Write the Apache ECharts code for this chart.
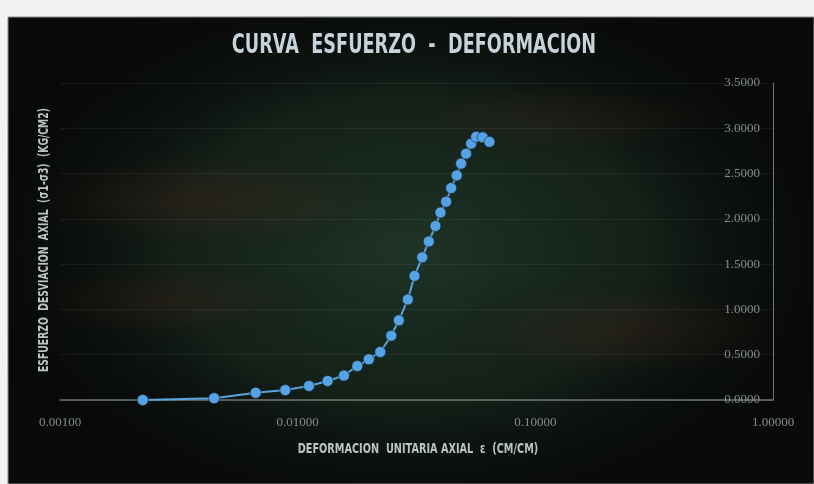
<!DOCTYPE html>
<html>
<head>
<meta charset="utf-8">
<script src="https://cdn.jsdelivr.net/npm/echarts@6/dist/echarts.min.js"></script>
<style>
  html, body { margin: 0; padding: 0; background: #f2f2f2; }
  #chart { width: 814px; height: 484px; }
</style>
</head>
<body>
<div id="chart"></div>
<script>
// Axial unit strain (cm/cm) and deviator stress (kg/cm2) readings
const deformacion = [
  0.00223, 0.00445, 0.00666, 0.00887, 0.01116, 0.01337, 0.01565, 0.01782,
  0.01993, 0.02226, 0.02476, 0.02665, 0.02907, 0.03102, 0.03342, 0.03562,
  0.03800, 0.03989, 0.04215, 0.04424, 0.04670, 0.04873, 0.05113, 0.05369,
  0.05636, 0.06007, 0.06410
];
const esfuerzo = [
  0.00, 0.02, 0.08, 0.11, 0.155, 0.21, 0.27, 0.375,
  0.45, 0.53, 0.71, 0.88, 1.11, 1.37, 1.575, 1.75,
  1.92, 2.07, 2.19, 2.34, 2.48, 2.61, 2.72, 2.83,
  2.906, 2.90, 2.85
];
const yTicks = [0, 0.5, 1, 1.5, 2, 2.5, 3, 3.5];
const xTicks = [0.001, 0.01, 0.1, 1];

const tituloTexto = 'CURVA  ESFUERZO  -  DEFORMACION';
const ejeXTexto = 'DEFORMACION  UNITARIA AXIAL  ε  (CM/CM)';
const ejeYTexto = 'ESFUERZO  DESVIACION  AXIAL  (σ1-σ3)  (KG/CM2)';

const points = deformacion.map((d, i) => [d, esfuerzo[i]]);
const sans = '"DejaVu Sans", sans-serif';
const serif = '"Liberation Serif", "DejaVu Serif", serif';

const chart = echarts.init(document.getElementById('chart'), null, { renderer: 'canvas' });

// soft glow over the dark panel (a scaled circle gives an elliptical glow)
function blob(cx, cy, rx, ry, color, mid) {
  return {
    type: 'circle', silent: true, z: -9,
    x: cx, y: cy, scaleX: rx / 100, scaleY: ry / 100,
    shape: { cx: 0, cy: 0, r: 100 },
    style: {
      fill: new echarts.graphic.RadialGradient(0.5, 0.5, 0.5, [
        { offset: 0, color: color },
        { offset: 0.5, color: mid },
        { offset: 1, color: 'rgba(0,0,0,0)' }
      ])
    }
  };
}

// light page margin around the panel, drawn above the glows
function margin(x, y, w, h) {
  return {
    type: 'rect', silent: true, z: -8,
    shape: { x: x, y: y, width: w, height: h },
    style: { fill: '#f2f2f2' }
  };
}

chart.setOption({
  animation: false,
  backgroundColor: 'transparent',
  graphic: [
    {
      type: 'rect', silent: true, z: -10,
      shape: { x: 8, y: 17, width: 806, height: 467 },
      style: { fill: '#090b0a' }
    },
    blob(410, 250, 470, 300, 'rgba(30,52,38,1)', 'rgba(24,40,30,0.75)'),
    blob(210, 200, 220, 55, 'rgba(80,36,26,0.28)', 'rgba(80,36,26,0.14)'),
    blob(620, 330, 200, 55, 'rgba(80,36,26,0.26)', 'rgba(80,36,26,0.13)'),
    blob(170, 300, 170, 45, 'rgba(72,32,22,0.26)', 'rgba(72,32,22,0.13)'),
    blob(560, 118, 200, 40, 'rgba(72,32,22,0.22)', 'rgba(72,32,22,0.11)'),
    margin(0, 0, 814, 16.5),
    margin(0, 0, 7.5, 484),
    {
      type: 'rect', silent: true, z: -7,
      shape: { x: 8, y: 17, width: 806, height: 467 },
      style: { fill: null, stroke: '#8a8a8a', lineWidth: 1 }
    },
    {
      type: 'text', z: 10, x: 414, y: 46, scaleX: 0.68,
      style: {
        text: tituloTexto, x: 0, y: 0, align: 'center', verticalAlign: 'middle',
        fill: '#c6d3da', font: 'bold 26px ' + sans
      }
    },
    {
      type: 'text', z: 10, rotation: Math.PI / 2, x: 45, y: 240, scaleX: 0.77, scaleY: 1.1,
      style: {
        text: ejeYTexto, x: 0, y: 0, align: 'center', verticalAlign: 'middle',
        fill: '#b8c4c6', font: 'bold 12px ' + sans
      }
    },
    {
      type: 'text', z: 10, x: 418, y: 450, scaleX: 0.81, scaleY: 1.1,
      style: {
        text: ejeXTexto, x: 0, y: 0, align: 'center', verticalAlign: 'middle',
        fill: '#b8c4c6', font: 'bold 12px ' + sans
      }
    }
  ],
  grid: { left: 60, right: 41, top: 83, bottom: 84, containLabel: false },
  xAxis: {
    type: 'log', logBase: 10, min: xTicks[0], max: xTicks[xTicks.length - 1],
    axisLine: { onZero: false, lineStyle: { color: '#6f7572', width: 1.5 } },
    axisTick: { show: false },
    splitLine: { show: false },
    axisLabel: {
      color: '#868c8b', fontFamily: serif, fontSize: 13, margin: 16,
      formatter: v => Number(v).toFixed(5)
    }
  },
  yAxis: {
    type: 'value', position: 'right',
    min: yTicks[0], max: yTicks[yTicks.length - 1], interval: 0.5,
    axisLine: { show: true, lineStyle: { color: '#6f7572', width: 1 } },
    axisTick: { show: false },
    splitLine: { show: true, lineStyle: { color: 'rgba(255,255,255,0.06)', width: 1 } },
    axisLabel: {
      inside: true, margin: 13, color: '#868c8b', fontFamily: serif, fontSize: 13,
      formatter: v => Number(v).toFixed(4)
    }
  },
  series: [{
    type: 'line',
    data: points,
    symbol: 'circle',
    symbolSize: 11,
    itemStyle: { color: '#55a3e4', borderColor: 'rgba(20,40,60,0.6)', borderWidth: 1 },
    lineStyle: { color: '#5aa3dc', width: 2 },
    z: 5
  }]
});
</script>
</body>
</html>
